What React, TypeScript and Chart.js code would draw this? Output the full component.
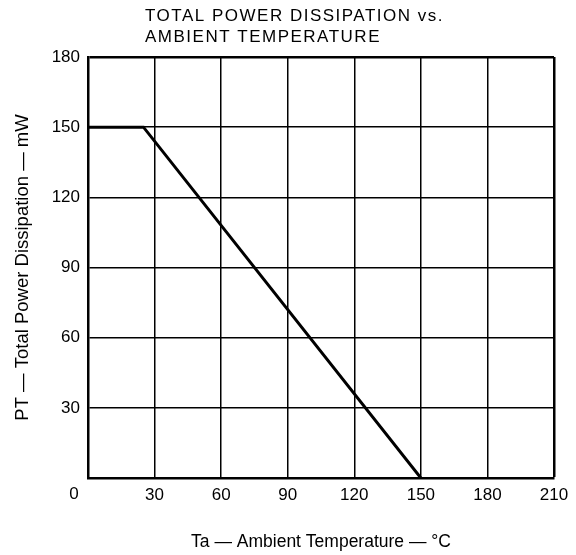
import React, { useEffect, useRef } from "react";
import { Chart, registerables } from "chart.js";

Chart.register(...registerables);

const titleLines = ["TOTAL POWER DISSIPATION vs.", "AMBIENT TEMPERATURE"];
const xAxisTitle = "Ta — Ambient Temperature — °C";
const yAxisTitle = "PT — Total Power Dissipation — mW";
const originLabel = "0";
const temperatureC = [0, 25, 150];
const powerMW = [150, 150, 0];
const xMin = 0;
const xMax = 210;
const xStep = 30;
const yMin = 0;
const yMax = 180;
const yStep = 30;

const FONT = '"Liberation Sans", Arial, Helvetica, sans-serif';

const overlayPlugin = {
  id: "overlayText",
  afterDraw(chart: any) {
    const ctx = chart.ctx as CanvasRenderingContext2D;
    const area = chart.chartArea;
    ctx.save();
    ctx.fillStyle = "#000";
    ctx.font = `17px ${FONT}`;
    (ctx as any).letterSpacing = "1.5px";
    ctx.textAlign = "left";
    ctx.textBaseline = "alphabetic";
    titleLines.forEach((t, i) => {
      ctx.fillText(t, area.left + 57, 13 + i * 21);
    });
    (ctx as any).letterSpacing = "0px";
    const xs = chart.scales.x;
    ctx.font = `17px ${FONT}`;
    ctx.textAlign = "center";
    ctx.textBaseline = "middle";
    ctx.fillText(originLabel, xs.getPixelForValue(xMin) - 14, xs.top + 16);
    ctx.restore();
  },
};

export default function App() {
  const canvasRef = useRef<HTMLCanvasElement | null>(null);

  useEffect(() => {
    if (!canvasRef.current) return;
    const chart = new Chart(canvasRef.current, {
      type: "line",
      data: {
        datasets: [
          {
            data: temperatureC.map((x, i) => ({ x, y: powerMW[i] })),
            borderColor: "#000",
            borderWidth: 3,
            pointRadius: 0,
            fill: false,
            tension: 0,
          },
        ],
      },
      options: {
        animation: false,
        responsive: true,
        maintainAspectRatio: false,
        layout: { padding: { top: 49, right: 14, left: 0, bottom: 0 } },
        plugins: {
          legend: { display: false },
          tooltip: { enabled: false },
          title: { display: false },
        },
        scales: {
          x: {
            type: "linear",
            min: xMin,
            max: xMax,
            afterFit: (s: any) => {
              s.height = 77;
              s.paddingLeft = 0;
              s.paddingRight = 0;
            },
            ticks: {
              stepSize: xStep,
              color: "#000",
              padding: 7,
              font: { family: FONT, size: 17 },
              callback: (v: any) => (v === xMin ? "" : String(v)),
              maxRotation: 0,
            },
            grid: {
              color: "#000",
              lineWidth: (c: any) => (c.tick && c.tick.value === xMax ? 2.5 : 1.5),
              drawTicks: false,
            },
            border: { display: true, color: "#000", width: 2.5 },
            title: {
              display: true,
              text: xAxisTitle,
              color: "#000",
              font: { family: FONT, size: 17.5 },
              padding: { top: 0, bottom: 2 },
            },
          },
          y: {
            type: "linear",
            min: yMin,
            max: yMax,
            afterFit: (s: any) => {
              s.width = 80;
            },
            ticks: {
              stepSize: yStep,
              color: "#000",
              padding: 8,
              font: { family: FONT, size: 17 },
              callback: (v: any) => (v === yMin ? "" : String(v)),
            },
            grid: {
              color: "#000",
              lineWidth: (c: any) => (c.tick && c.tick.value === yMax ? 2.5 : 1.5),
              drawTicks: false,
            },
            border: { display: true, color: "#000", width: 2.5 },
            title: {
              display: true,
              text: yAxisTitle,
              color: "#000",
              font: { family: FONT, size: 18.5 },
              padding: { top: 4, bottom: 0 },
            },
          },
        },
      },
      plugins: [overlayPlugin],
    });
    return () => chart.destroy();
  }, []);

  return (
    <div style={{ width: 560, height: 547, position: "relative" }}>
      <canvas ref={canvasRef} />
    </div>
  );
}
